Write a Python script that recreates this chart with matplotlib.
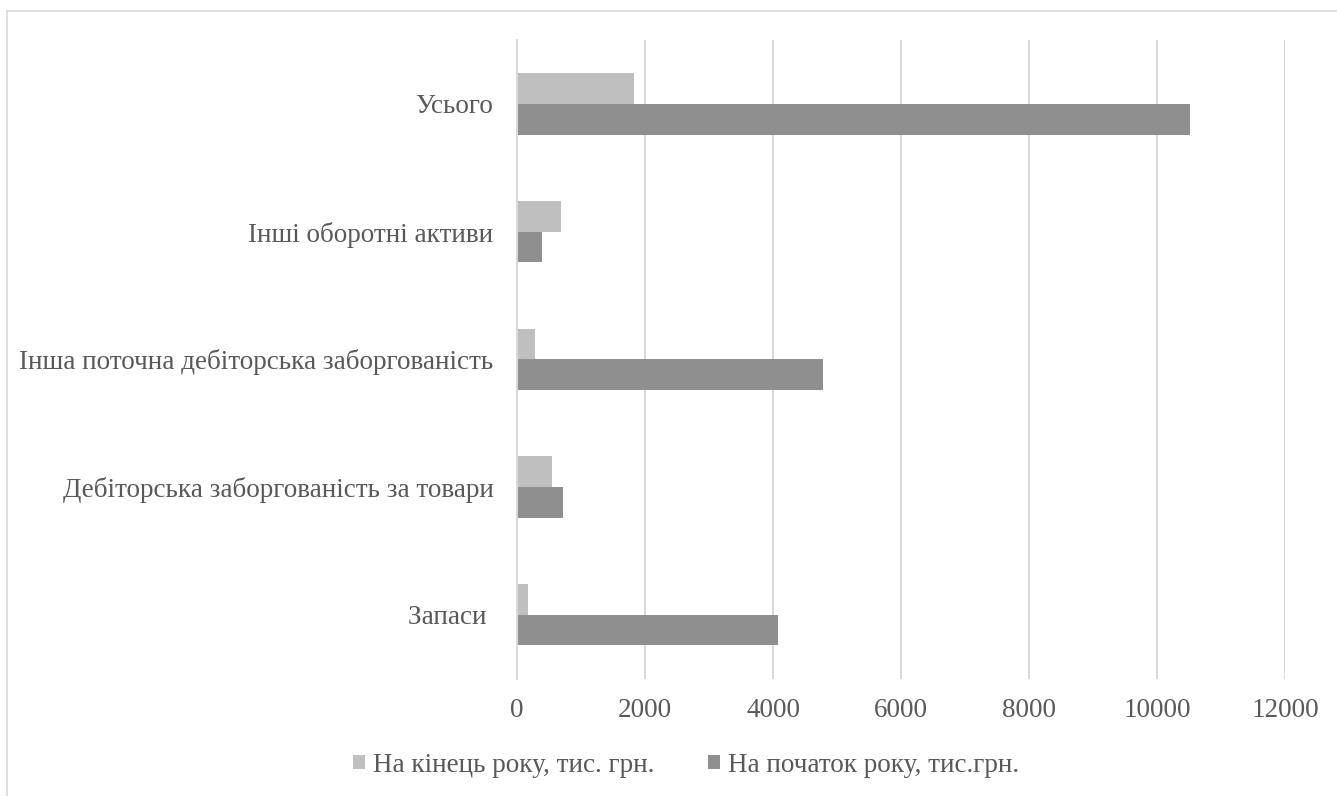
import matplotlib
matplotlib.use("Agg")
import matplotlib.pyplot as plt
from matplotlib.lines import Line2D
from matplotlib.patches import Patch
import numpy as np

# Категорії оборотних активів (знизу вгору)
categories = [
    "Запаси ",
    "Дебіторська заборгованість за товари",
    "Інша поточна дебіторська заборгованість",
    "Інші оборотні активи",
    "Усього",
]
end_of_year = [167, 553, 282, 689, 1822]        # На кінець року, тис. грн.
start_of_year = [4077, 725, 4782, 392, 10510]   # На початок року, тис.грн.
series_labels = ["На кінець року, тис. грн.", "На початок року, тис.грн."]
x_ticks = [0, 2000, 4000, 6000, 8000, 10000, 12000]

light = "#BFBFBF"
dark = "#8F8F8F"
text_col = "#595959"
grid_col = "#D9D9D9"
fs = 19.5

plt.rcParams["font.family"] = ["Liberation Serif", "DejaVu Serif"]

fig = plt.figure(figsize=(13.37, 7.96), dpi=100)
ax = fig.add_axes([517 / 1337, 1 - 678.6 / 796, (1285.3 - 517) / 1337, (678.6 - 40) / 796])

y = np.arange(len(categories))
h = 0.24
ax.barh(y + h / 2, end_of_year, height=h, color=light, zorder=3)
ax.barh(y - h / 2, start_of_year, height=h, color=dark, zorder=3)

ax.set_xlim(0, 12000)
ax.set_ylim(-0.5, len(categories) - 0.5)
ax.set_xticks(x_ticks)
ax.set_xticklabels([str(t) for t in x_ticks])
ax.set_yticks(y)
ax.set_yticklabels(categories)
ax.tick_params(axis="both", length=0, colors=text_col, labelsize=fs)
ax.tick_params(axis="x", pad=14)
ax.tick_params(axis="y", pad=17)

ax.grid(axis="x", color=grid_col, linewidth=1.5, zorder=0)
for s in ("top", "right", "bottom"):
    ax.spines[s].set_visible(False)
ax.spines["left"].set_color(grid_col)
ax.spines["left"].set_linewidth(1.5)
ax.spines["left"].set_zorder(4)

# Рамка області діаграми
fig.add_artist(Line2D([7 / 1337, 7 / 1337], [0, 1 - 11 / 796], transform=fig.transFigure,
                      color=grid_col, linewidth=1.2))
fig.add_artist(Line2D([7 / 1337, 1], [1 - 11 / 796, 1 - 11 / 796], transform=fig.transFigure,
                      color=grid_col, linewidth=1.2))

handles = [Patch(facecolor=light), Patch(facecolor=dark)]
fig.legend(handles, series_labels, loc="center", bbox_to_anchor=(686 / 1337, 1 - 765 / 796),
           ncol=2, frameon=False, fontsize=fs, labelcolor=text_col,
           handlelength=0.45, handleheight=0.45, handletextpad=0.3, columnspacing=1.96,
           borderaxespad=0, borderpad=0)

fig.savefig("out.png", dpi=100, facecolor="white")
